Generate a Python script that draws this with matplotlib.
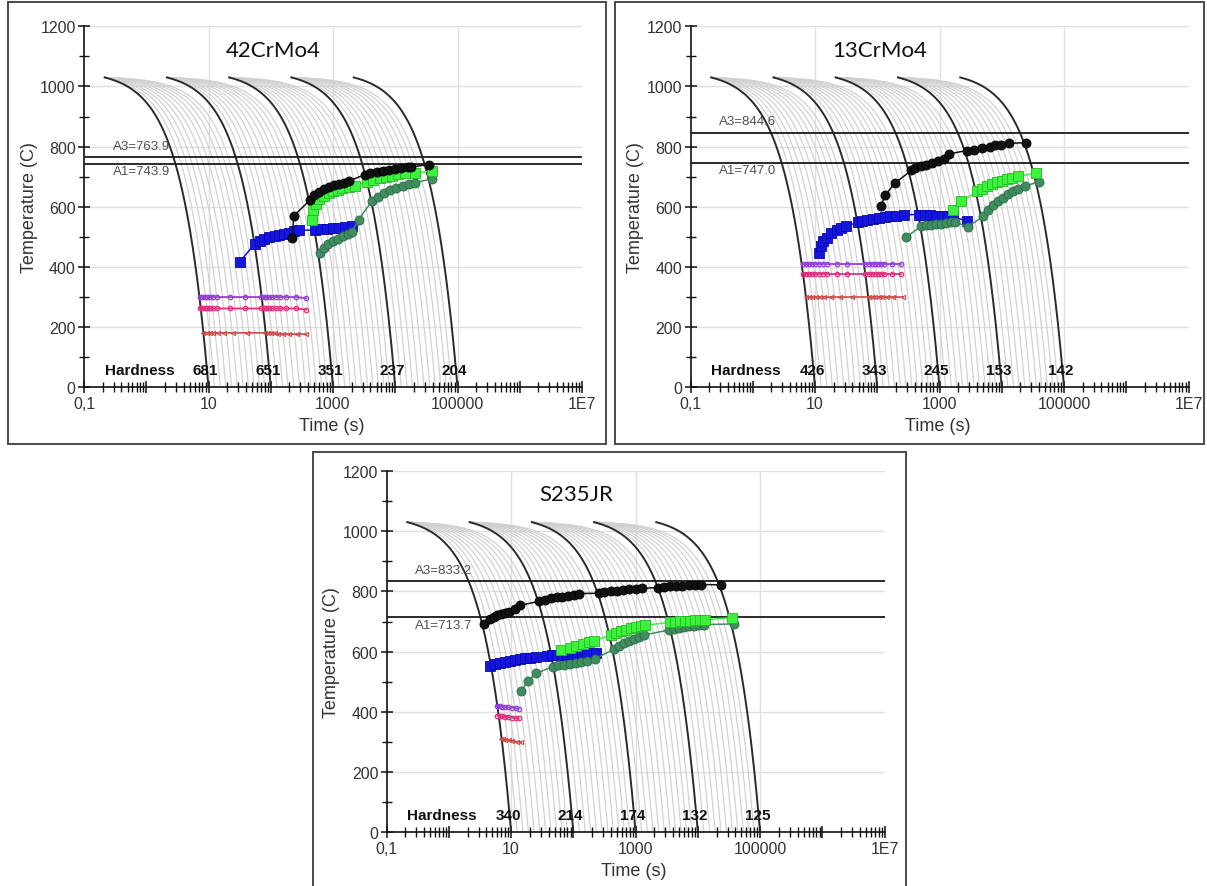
import numpy as np
import matplotlib
matplotlib.use("Agg")
import matplotlib.pyplot as plt
from matplotlib.patches import Rectangle
from matplotlib.ticker import FixedLocator, NullFormatter, FixedFormatter

plt.rcParams['font.family'] = ['Liberation Sans', 'DejaVu Sans']

# ---------------- shared cooling-curve data ----------------
T_start = 1030
group_start_t = [0.215, 2.15, 21.5, 215, 2150]
group_end_t = [10, 100, 1000, 10000, 100000]
fan_factors = [1.25, 1.55, 1.9, 2.35, 2.9, 3.6, 4.4, 5.4, 6.6, 8.0]
fan_groups = [True, True, True, True, False]

x_tick_vals = [0.1, 1, 10, 100, 1e3, 1e4, 1e5, 1e6, 1e7]
x_tick_labels = ['0,1', '', '10', '', '1000', '', '100000', '', '1E7']
y_tick_vals = [0, 200, 400, 600, 800, 1000, 1200]
y_minor_vals = [100, 300, 500, 700, 900, 1100]
x_grid_vals = [10, 1000, 100000]

# ---------------- Panel 1 : 42CrMo4 ----------------
p1_title = '42CrMo4'
p1_A3, p1_A1 = 763.9, 743.9
p1_hardness = ['681', '651', '351', '237', '204']
p1_black_t = [220, 235, 430, 500, 600, 720, 870, 1050, 1260, 1510, 1780, 3240, 3980, 5010, 6310, 7940, 10000, 12600, 15800, 18200, 34700]
p1_black_T = [497, 570, 623, 640, 650, 660, 667, 672, 677, 680, 685, 707, 712, 716, 719, 722, 725, 728, 731, 733, 740]
p1_lgreen_t = [457, 479, 525, 603, 708, 851, 1000, 1202, 1413, 1778, 2239, 3467, 4467, 5623, 7079, 8913, 11220, 14125, 20417, 38905]
p1_lgreen_T = [557, 590, 610, 625, 637, 645, 652, 657, 661, 665, 668, 684, 690, 695, 700, 704, 708, 711, 713, 718]
p1_dgreen_t = [617, 708, 832, 1000, 1202, 1445, 1738, 1995, 2570, 4169, 5248, 6607, 8318, 10471, 13183, 16596, 20417, 38905]
p1_dgreen_T = [445, 462, 475, 485, 494, 502, 510, 515, 557, 618, 632, 645, 655, 663, 670, 676, 680, 693]
p1_blue_t = [32, 56, 66, 79, 95, 115, 138, 166, 200, 240, 282, 513, 631, 794, 1000, 1259, 1585, 1995]
p1_blue_T = [418, 478, 485, 492, 498, 503, 507, 510, 514, 520, 522, 523, 525, 527, 529, 531, 534, 537]
p1_purple_t = [7.2, 7.9, 8.7, 9.5, 10.7, 12, 13.5, 21.9, 38, 70.8, 77.6, 85.1, 93.3, 105, 120, 141, 178, 257, 372]
p1_purple_T = [300, 300, 300, 300, 300, 300, 300, 300, 300, 300, 300, 300, 300, 300, 300, 300, 300, 300, 296]
p1_pink_t = [7.2, 7.9, 8.7, 9.5, 10.7, 12, 13.5, 21.9, 38, 70.8, 77.6, 85.1, 93.3, 105, 120, 141, 178, 257, 372]
p1_pink_T = [262, 262, 262, 262, 262, 262, 262, 262, 262, 262, 262, 262, 262, 262, 262, 262, 262, 262, 258]
p1_red_t = [8.3, 9.3, 10.5, 12, 14.1, 17.8, 25.1, 41.7, 79.4, 89.1, 100, 115, 132, 158, 200, 263, 372]
p1_red_T = [181, 181, 181, 181, 181, 181, 181, 181, 181, 181, 181, 179, 177, 177, 177, 177, 177]

# ---------------- Panel 2 : 13CrMo4 ----------------
p2_title = '13CrMo4'
p2_A3, p2_A1 = 844.6, 747.0
p2_hardness = ['426', '343', '245', '153', '142']
p2_black_t = [114, 135, 194, 352, 405, 500, 618, 764, 944, 1167, 1445, 2729, 3614, 4797, 6368, 7870, 9727, 12882, 24378]
p2_black_T = [601, 640, 679, 721, 728, 734, 740, 745, 751, 758, 776, 787, 789, 795, 800, 804, 807, 811, 813]
p2_lgreen_t = [1622, 2213, 4074, 4898, 5888, 7079, 8511, 10233, 12303, 14791, 18197, 35892]
p2_lgreen_T = [590, 618, 651, 660, 668, 675, 681, 687, 692, 697, 701, 712]
p2_dgreen_t = [288, 501, 603, 724, 871, 1047, 1259, 1514, 1778, 2818, 5012, 6026, 7244, 8710, 10471, 12589, 15136, 18197, 23442, 39811]
p2_dgreen_T = [498, 535, 538, 540, 542, 544, 546, 548, 550, 533, 568, 590, 605, 618, 630, 642, 652, 660, 668, 684]
p2_blue_t = [11.5, 12.7, 13.6, 15.7, 18.1, 22.4, 25.8, 31.8, 48.6, 56.0, 69.2, 85.7, 106, 131, 162, 200, 265, 467, 577, 713, 881, 1089, 1346, 1663, 2729]
p2_blue_T = [447, 469, 486, 497, 513, 524, 530, 535, 549, 552, 557, 561, 563, 566, 568, 571, 574, 574, 573, 572, 571, 570, 569, 568, 552]
p2_purple_t = [6.3, 7.1, 7.9, 8.9, 10, 11.5, 13.2, 15.8, 22.9, 33.1, 64.6, 72.4, 81.3, 91.2, 102, 115, 129, 174, 240]
p2_purple_T = [411] * 19
p2_pink_t = [6.3, 7.1, 7.9, 8.9, 10, 11.5, 13.2, 15.8, 22.9, 33.1, 64.6, 72.4, 81.3, 91.2, 102, 115, 129, 174, 240]
p2_pink_T = [376] * 19
p2_red_t = [7.2, 8.1, 9.1, 10.5, 12, 14.1, 17.8, 25.1, 39.8, 72.4, 81.3, 91.2, 105, 120, 141, 178, 257]
p2_red_T = [300] * 17

# ---------------- Panel 3 : S235JR ----------------
p3_title = 'S235JR'
p3_A3, p3_A1 = 833.2, 713.7
p3_hardness = ['340', '214', '174', '132', '125']
p3_black_t = [3.66, 4.53, 5.22, 6.01, 6.92, 7.98, 9.18, 11.4, 14.0, 28.4, 35.2, 43.4, 53.7, 66.4, 82.0, 101, 125, 254, 316, 398, 501, 631, 794, 1000, 1259, 2270, 2818, 3548, 4467, 5623, 7079, 8913, 11220, 23335]
p3_black_T = [691, 708, 716, 721, 725, 730, 733, 743, 754, 767, 772, 777, 780, 783, 785, 789, 793, 794, 799, 801, 803, 805, 807, 809, 810, 813, 815, 817, 818, 819, 820, 821, 823, 822]
p3_lgreen_t = [63.1, 89.1, 112, 141, 178, 214, 398, 479, 575, 692, 832, 1000, 1202, 1413, 3548, 4266, 5129, 6166, 7413, 8913, 10715, 13183, 35481]
p3_lgreen_T = [605, 612, 618, 625, 632, 636, 655, 662, 668, 673, 678, 683, 686, 688, 697, 699, 701, 702, 703, 704, 705, 706, 713]
p3_dgreen_t = [14.5, 18.6, 25.1, 46.8, 57.5, 70.8, 87.1, 110, 135, 166, 219, 447, 537, 646, 776, 933, 1122, 1349, 3467, 4169, 5012, 6026, 7244, 8710, 10471, 12589, 38019]
p3_dgreen_T = [468, 502, 528, 550, 554, 557, 560, 563, 566, 570, 575, 608, 618, 628, 636, 643, 650, 655, 672, 676, 679, 682, 684, 686, 688, 690, 692]
p3_blue_t = [4.57, 5.50, 6.61, 7.94, 9.55, 11.5, 13.8, 16.6, 20.0, 25.1, 37.2, 45.7, 55.0, 66.1, 79.4, 95.5, 115, 138, 166, 234]
p3_blue_T = [553, 558, 562, 566, 570, 573, 576, 578, 580, 581, 586, 588, 589, 590, 591, 592, 593, 594, 595, 597]
p3_purple_t = [6.0, 6.6, 7.2, 7.9, 8.9, 10.2, 12.0, 13.2]
p3_purple_T = [420, 418, 417, 416, 415, 414, 412, 411]
p3_pink_t = [6.0, 6.6, 7.2, 7.9, 8.9, 10.2, 12.0, 13.2]
p3_pink_T = [387, 386, 385, 384, 383, 381, 379, 378]
p3_red_t = [6.8, 7.4, 8.1, 9.1, 10.5, 12.3, 14.5]
p3_red_T = [310, 309, 308, 306, 304, 301, 299]

# ---------------- drawing ----------------
W, H = 1207, 887
fig = plt.figure(figsize=(W / 100, H / 100), dpi=100)
fig.patch.set_facecolor('white')


def px_rect(x0, y0, x1, y1):
    return [x0 / W, 1 - y1 / H, (x1 - x0) / W, (y1 - y0) / H]


# panel frames
for (x0, y0, x1, y1) in [(8, 3, 606, 445), (615, 3, 1204, 445), (313, 453, 906, 900)]:
    fig.add_artist(Rectangle((x0 / W, 1 - y1 / H), (x1 - x0) / W, (y1 - y0) / H,
                             transform=fig.transFigure, fill=False,
                             edgecolor='#4a4a4a', linewidth=1.4, zorder=0))


def cooling_curve(ts, te):
    t = np.unique(np.concatenate([np.geomspace(ts, te, 300),
                                  te - (te - ts) * np.geomspace(1e-4, 1, 300)]))
    T = T_start * (1 - (t - ts) / (te - ts))
    return t, T


def draw_panel(ax, title, A3, A1, hardness, series, mart):
    ax.set_xscale('log')
    ax.set_xlim(0.1, 1e7)
    ax.set_ylim(0, 1200)
    for s in ['top', 'right']:
        ax.spines[s].set_visible(False)
    for s in ['left', 'bottom']:
        ax.spines[s].set_color('#111111')
        ax.spines[s].set_linewidth(1.2)

    # grid
    for yv in y_tick_vals[1:]:
        ax.axhline(yv, color='#e0e0e0', lw=1.0, zorder=0)
    for xv in x_grid_vals:
        ax.axvline(xv, color='#e0e0e0', lw=1.0, zorder=0)

    # ticks
    ax.xaxis.set_major_locator(FixedLocator(x_tick_vals))
    ax.xaxis.set_major_formatter(FixedFormatter(x_tick_labels))
    minors = [m * d for d in x_tick_vals[:-1] for m in range(2, 10)]
    ax.xaxis.set_minor_locator(FixedLocator(minors))
    ax.xaxis.set_minor_formatter(NullFormatter())
    ax.yaxis.set_major_locator(FixedLocator(y_tick_vals))
    ax.yaxis.set_minor_locator(FixedLocator(y_minor_vals))
    ax.tick_params(axis='both', which='major', direction='inout', length=8, width=1.1,
                   color='#111111', labelsize=11.5, labelcolor='#333333', pad=2)
    ax.tick_params(axis='both', which='minor', direction='inout', length=7, width=1.0,
                   color='#111111')

    # cooling curves
    for g, (ts, te) in enumerate(zip(group_start_t, group_end_t)):
        if fan_groups[g]:
            for f in fan_factors:
                t, T = cooling_curve(ts, te * f)
                ax.plot(t, T, color='#d0d0d0', lw=0.85, zorder=1)
    for ts, te in zip(group_start_t, group_end_t):
        t, T = cooling_curve(ts, te)
        ax.plot(t, T, color='#2b2b2b', lw=1.4, zorder=2)

    # A3 / A1
    ax.axhline(A3, color='#1a1a1a', lw=1.3, zorder=3)
    ax.axhline(A1, color='#1a1a1a', lw=1.3, zorder=3)
    ax.text(0.29, A3 + 39, 'A3=%.1f' % A3, fontsize=9.5, color='#505050', ha='left', va='center', zorder=3)
    ax.text(0.29, A1 - 24, 'A1=%.1f' % A1, fontsize=9.5, color='#505050', ha='left', va='center', zorder=3)

    # martensite lines
    (pu_t, pu_T), (pi_t, pi_T), (re_t, re_T) = mart
    ax.plot(pu_t, pu_T, color='#9440d8', lw=1.3, marker='o', ms=3.2, mfc='none', mew=0.9, zorder=4)
    ax.plot(pi_t, pi_T, color='#e0307f', lw=1.3, marker='o', ms=3.2, mfc='none', mew=0.9, zorder=4)
    ax.plot(re_t, re_T, color='#cf4a4a', lw=1.2, marker='<', ms=3.0, mfc='none', mew=0.8, zorder=4)

    # transformation series
    (b_t, b_T), (lg_t, lg_T), (dg_t, dg_T), (bl_t, bl_T) = series
    ax.plot(bl_t, bl_T, color='#1515e0', lw=1.1, marker='s', ms=6.5, mec='#0a0aa8', mew=0.6, zorder=5)
    ax.plot(dg_t, dg_T, color='#3f8d60', lw=1.1, marker='o', ms=6.5, mec='#2a6a45', mew=0.6, zorder=5)
    ax.plot(lg_t, lg_T, color='#3df23d', lw=1.1, marker='s', ms=6.5, mec='#22b822', mew=0.6, zorder=6)
    ax.plot(b_t, b_T, color='#111111', lw=1.1, marker='o', ms=6.5, mec='#000000', mew=0.6, zorder=7)

    # hardness
    ax.text(0.78, 57, 'Hardness', fontsize=11, fontweight='bold', color='#111111',
            ha='center', va='center', zorder=8)
    for te, hv in zip(group_end_t, hardness):
        ax.text(te * 0.9, 57, hv, fontsize=11, fontweight='bold', color='#111111',
                ha='center', va='center', zorder=8)

    # labels
    ax.text(-0.110, 0.5, 'Temperature (C)', rotation=90, ha='center', va='center',
            fontsize=13, color='#333333', transform=ax.transAxes)
    ax.text(0.497, -0.107, 'Time (s)', ha='center', va='center',
            fontsize=13, color='#333333', transform=ax.transAxes)
    ax.text(0.38, 0.935, title, ha='center', va='center', fontsize=16,
            family=['Lato', 'DejaVu Sans'], color='#111111', transform=ax.transAxes)


ax1 = fig.add_axes(px_rect(84, 27.3, 582, 388.3))
ax2 = fig.add_axes(px_rect(690.5, 27.3, 1188.5, 388.3))
ax3 = fig.add_axes(px_rect(386.6, 472, 884.6, 833.3))
for a in (ax1, ax2, ax3):
    a.set_facecolor('none')

draw_panel(ax1, p1_title, p1_A3, p1_A1, p1_hardness,
           [(p1_black_t, p1_black_T), (p1_lgreen_t, p1_lgreen_T), (p1_dgreen_t, p1_dgreen_T), (p1_blue_t, p1_blue_T)],
           [(p1_purple_t, p1_purple_T), (p1_pink_t, p1_pink_T), (p1_red_t, p1_red_T)])
draw_panel(ax2, p2_title, p2_A3, p2_A1, p2_hardness,
           [(p2_black_t, p2_black_T), (p2_lgreen_t, p2_lgreen_T), (p2_dgreen_t, p2_dgreen_T), (p2_blue_t, p2_blue_T)],
           [(p2_purple_t, p2_purple_T), (p2_pink_t, p2_pink_T), (p2_red_t, p2_red_T)])
draw_panel(ax3, p3_title, p3_A3, p3_A1, p3_hardness,
           [(p3_black_t, p3_black_T), (p3_lgreen_t, p3_lgreen_T), (p3_dgreen_t, p3_dgreen_T), (p3_blue_t, p3_blue_T)],
           [(p3_purple_t, p3_purple_T), (p3_pink_t, p3_pink_T), (p3_red_t, p3_red_T)])

fig.savefig('out.png', dpi=100)
